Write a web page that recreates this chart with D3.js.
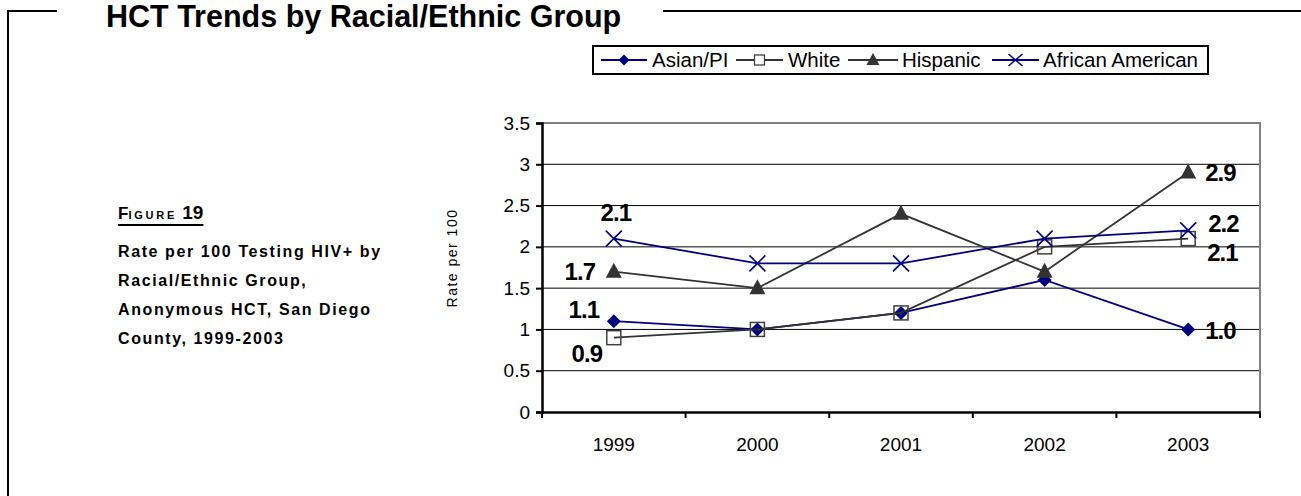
<!DOCTYPE html>
<html>
<head>
<meta charset="utf-8">
<script src="https://cdn.jsdelivr.net/npm/d3@7"></script>
<style>
  html, body { margin: 0; padding: 0; background: #fff; }
  svg { display: block; font-family: "Liberation Sans", Arial, sans-serif; }
</style>
</head>
<body>
<svg id="chart" width="1301" height="496"></svg>
<script>
// Rate per 100 testing HIV+ by racial/ethnic group, anonymous HCT, 1999-2003
const years = ["1999", "2000", "2001", "2002", "2003"];
const asianPI = [1.1, 1.0, 1.2, 1.6, 1.0];
const white = [0.9, 1.0, 1.2, 2.0, 2.1];
const hispanic = [1.7, 1.5, 2.4, 1.7, 2.9];
const africanAmerican = [2.1, 1.8, 1.8, 2.1, 2.2];
const yTicks = [0, 0.5, 1, 1.5, 2, 2.5, 3, 3.5];

const seriesNames = ["Asian/PI", "White", "Hispanic", "African American"];
const seriesValues = [asianPI, white, hispanic, africanAmerican];
const seriesStyle = [
  { line: "#000080", marker: "diamond" },
  { line: "#333333", marker: "square" },
  { line: "#333333", marker: "triangle" },
  { line: "#000080", marker: "cross" }
];

const svg = d3.select("#chart");

// ---- outer frame and heading ----
const frame = svg.append("g").attr("stroke", "#000").attr("stroke-width", 2).attr("fill", "none");
frame.append("path").attr("d", "M57,11 H8 V496");
frame.append("path").attr("d", "M663,11 H1301");

svg.append("text")
  .attr("x", 106).attr("y", 27)
  .attr("font-size", 30.5).attr("font-weight", "bold")
  .text("HCT Trends by Racial/Ethnic Group");

// ---- figure caption ----
const cap = svg.append("text").attr("x", 118).attr("y", 219)
  .attr("font-weight", "bold").attr("fill", "#000");
cap.append("tspan").attr("font-size", 17).text("F");
cap.append("tspan").attr("font-size", 11).attr("letter-spacing", 2.8).text("IGURE");
cap.append("tspan").attr("font-size", 19).attr("dx", 5).text("19");
const capBox = cap.node().getBBox();
svg.append("line").attr("x1", 118).attr("x2", capBox.x + capBox.width).attr("y1", 225).attr("y2", 225)
  .attr("stroke", "#000").attr("stroke-width", 2);

const capLines = ["Rate per 100 Testing HIV+ by", "Racial/Ethnic Group,", "Anonymous HCT, San Diego", "County, 1999-2003"];
svg.append("g").selectAll("text").data(capLines).join("text")
  .attr("x", 118).attr("y", (d, i) => 257 + i * 29)
  .attr("font-size", 16).attr("font-weight", "bold").attr("letter-spacing", 1.6)
  .text(d => d);

// ---- plot area ----
const plot = { left: 542, right: 1260, top: 123, bottom: 412 };
const x = d3.scaleBand().domain(years).range([plot.left, plot.right]);
const y = d3.scaleLinear().domain([0, 3.5]).range([plot.bottom, plot.top]);
const cx = d => x(d) + x.bandwidth() / 2;

// gridlines
svg.append("g").selectAll("line").data(yTicks.filter(t => t > 0 && t < 3.5)).join("line")
  .attr("x1", plot.left).attr("x2", plot.right)
  .attr("y1", d => y(d)).attr("y2", d => y(d))
  .attr("stroke", "#000").attr("stroke-width", 1);

// gray plot border (top, right)
svg.append("path")
  .attr("d", `M${plot.left},${y(3.5)} H${plot.right} V${plot.bottom}`)
  .attr("fill", "none").attr("stroke", "#808080").attr("stroke-width", 2);

// y axis
const yAxis = svg.append("g").attr("transform", `translate(${plot.left},0)`)
  .call(d3.axisLeft(y).tickValues(yTicks).tickSize(6).tickPadding(6).tickFormat(d3.format("")));
yAxis.select(".domain").attr("stroke-width", 2.5);
yAxis.selectAll(".tick line").attr("stroke-width", 2);
yAxis.selectAll("text").attr("font-size", 19).attr("fill", "#000")
  .attr("font-family", "Liberation Sans, Arial, sans-serif");

// x axis with ticks on band boundaries
const xAxis = svg.append("g").attr("transform", `translate(0,${plot.bottom})`)
  .call(d3.axisBottom(x).tickSize(0).tickPadding(26));
xAxis.select(".domain").attr("stroke-width", 2.5);
xAxis.selectAll("text").attr("font-size", 19).attr("fill", "#000")
  .attr("font-family", "Liberation Sans, Arial, sans-serif");
const bounds = years.map(d => x(d)).concat([plot.right]);
svg.append("g").selectAll("line").data(bounds).join("line")
  .attr("x1", d => d).attr("x2", d => d)
  .attr("y1", plot.bottom).attr("y2", plot.bottom + 6)
  .attr("stroke", "#000").attr("stroke-width", 2);

// y axis title
svg.append("text")
  .attr("transform", "translate(457,258) rotate(-90)")
  .attr("text-anchor", "middle").attr("font-size", 14).attr("letter-spacing", 1.5)
  .text("Rate per 100");

// ---- markers ----
function drawMarker(g, kind, color) {
  if (kind === "diamond") {
    g.append("path").attr("d", "M0,-7 L7,0 L0,7 L-7,0 Z").attr("fill", color);
  } else if (kind === "square") {
    g.append("rect").attr("x", -7).attr("y", -7).attr("width", 14).attr("height", 14)
      .attr("fill", "none").attr("stroke", "#404040").attr("stroke-width", 1.5);
  } else if (kind === "triangle") {
    g.append("path").attr("d", "M0,-9 L8,6 L-8,6 Z").attr("fill", color);
  } else if (kind === "cross") {
    g.append("path").attr("d", "M-8,-8 L8,8 M-8,8 L8,-8")
      .attr("stroke", color).attr("stroke-width", 1.6).attr("fill", "none");
  }
}

const line = d3.line().x((d, i) => cx(years[i])).y(d => y(d));

seriesValues.forEach((vals, s) => {
  const st = seriesStyle[s];
  svg.append("path").datum(vals).attr("d", line)
    .attr("fill", "none").attr("stroke", st.line).attr("stroke-width", 1.8);
  vals.forEach((v, i) => {
    const g = svg.append("g").attr("transform", `translate(${cx(years[i])},${y(v)})`);
    drawMarker(g, st.marker, st.line);
  });
});

// ---- value labels at first and last year ----
const fmt = d3.format(".1f");
const labels = [
  { s: 3, i: 0, dx: 2, dy: -18, anchor: "middle" },
  { s: 2, i: 0, dx: -34, dy: 8, anchor: "middle" },
  { s: 0, i: 0, dx: -30, dy: -3, anchor: "middle" },
  { s: 1, i: 0, dx: -27, dy: 24, anchor: "middle" },
  { s: 2, i: 4, dx: 17, dy: 8, anchor: "start" },
  { s: 3, i: 4, dx: 20, dy: 2, anchor: "start" },
  { s: 1, i: 4, dx: 19, dy: 22, anchor: "start" },
  { s: 0, i: 4, dx: 17, dy: 10, anchor: "start" }
];
svg.append("g").selectAll("text").data(labels).join("text")
  .attr("x", d => cx(years[d.i]) + d.dx)
  .attr("y", d => y(seriesValues[d.s][d.i]) + d.dy)
  .attr("text-anchor", d => d.anchor)
  .attr("font-size", 24).attr("font-weight", "bold").attr("letter-spacing", -1)
  .text(d => fmt(seriesValues[d.s][d.i]));

// ---- legend ----
const legend = svg.append("g");
legend.append("rect").attr("x", 593).attr("y", 46).attr("width", 615).attr("height", 28)
  .attr("fill", "#fff").attr("stroke", "#000").attr("stroke-width", 2);
const legendItems = [
  { x0: 601, x1: 647, tx: 652 },
  { x0: 736, x1: 783, tx: 788 },
  { x0: 848, x1: 898, tx: 902 },
  { x0: 992, x1: 1039, tx: 1043 }
];
legendItems.forEach((it, s) => {
  const st = seriesStyle[s];
  const ly = 60;
  legend.append("line").attr("x1", it.x0).attr("x2", it.x1).attr("y1", ly).attr("y2", ly)
    .attr("stroke", st.line).attr("stroke-width", 1.8);
  const g = legend.append("g").attr("transform", `translate(${(it.x0 + it.x1) / 2},${ly})`);
  if (st.marker === "diamond") g.append("path").attr("d", "M0,-5.5 L5.5,0 L0,5.5 L-5.5,0 Z").attr("fill", st.line);
  if (st.marker === "square") g.append("rect").attr("x", -5).attr("y", -5).attr("width", 10).attr("height", 10)
    .attr("fill", "#fff").attr("stroke", "#404040").attr("stroke-width", 1.3);
  if (st.marker === "triangle") g.append("path").attr("d", "M0,-7 L6.5,5 L-6.5,5 Z").attr("fill", st.line);
  if (st.marker === "cross") g.append("path").attr("d", "M-7,-6 L7,6 M-7,6 L7,-6")
    .attr("stroke", st.line).attr("stroke-width", 1.5);
  legend.append("text").attr("x", it.tx).attr("y", ly + 7)
    .attr("font-size", 20.5).text(seriesNames[s]);
});
</script>
</body>
</html>
